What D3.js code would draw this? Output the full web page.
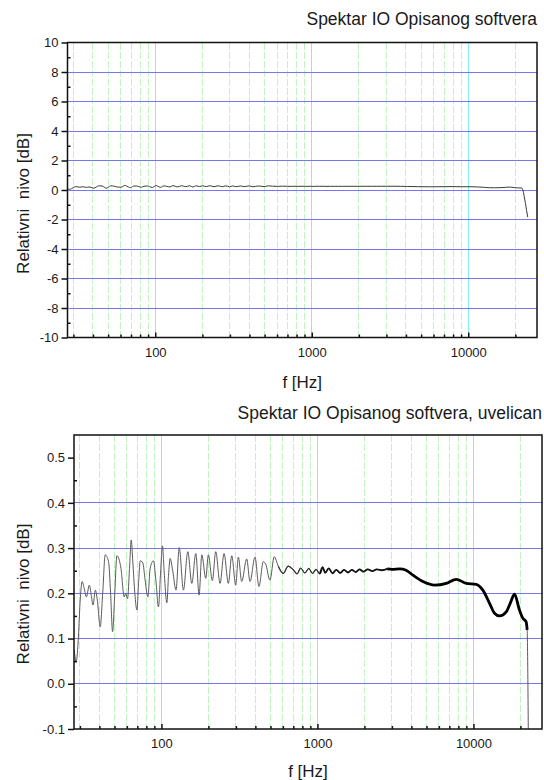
<!DOCTYPE html>
<html lang="en">
<head>
  <meta charset="UTF-8">
  <title>Spektar IO Opisanog softvera</title>
  <script src="https://d3js.org/d3.v7.min.js"></script>
  <style>
    body
    {
      margin: 0;
      padding: 0;
      background-color: #fff;
    }

    svg text
    {
      font-family: Arial, "Liberation Sans", sans-serif;
      fill: #1a1a1a;
    }
  </style>
</head>
<body>
  <svg width="544" height="780"></svg>
  <script>
    // frequency [Hz] and relative level [dB]
    const freq = [
      27.6, 28.4, 29.2, 30.2, 31.0, 32.0, 33.0, 34.5, 35.5, 36.4, 37.7, 38.8, 40.5, 42.0, 43.6, 45.8,
      47.2, 48.6, 50.2, 51.8, 55.0, 57.7, 59.0, 60.6, 62.5, 64.0, 65.5, 67.5, 69.6, 71.5, 73.1, 76.0,
      78.5, 81.8, 84.7, 88.9, 92.0, 95.7, 98.5, 101.5, 104, 108.3, 111, 113.7, 118, 124, 130, 138.3,
      147.5, 156.5, 166, 174.3, 181.4, 192.3, 199.8, 212, 222.8, 237.5, 251.9, 268.4, 282.2, 299.2,
      311, 326.9, 351.9, 369.4, 397.7, 421.8, 449.4, 465.5, 496, 528.4, 560.8, 603.5, 649.3,
      700, 740, 780, 830, 880, 930, 980, 1036, 1080, 1120, 1180, 1250, 1320, 1400, 1480, 1570, 1660,
      1760, 1860, 1970, 2100, 2250, 2400, 2600, 2800, 3000, 3367, 3700, 4097, 4746, 5638, 6699, 7762,
      8994, 10421, 11485, 12680, 13646, 14690, 16220, 17300, 18330, 19720, 20710, 21770, 22090,
      22400, 22700, 23200, 23600, 24000
    ];
    const level = [
      0.075, 0.048, 0.09, 0.19, 0.226, 0.21, 0.192, 0.218, 0.195, 0.174, 0.207, 0.185, 0.126, 0.2, 0.285, 0.27,
      0.2, 0.115, 0.2, 0.283, 0.255, 0.192, 0.2, 0.188, 0.26, 0.318, 0.27, 0.2, 0.163, 0.23, 0.272, 0.267,
      0.23, 0.192, 0.256, 0.272, 0.23, 0.17, 0.24, 0.305, 0.25, 0.179, 0.24, 0.277, 0.25, 0.207, 0.301, 0.207,
      0.292, 0.222, 0.288, 0.196, 0.285, 0.233, 0.285, 0.228, 0.292, 0.222, 0.288, 0.222, 0.283, 0.218,
      0.28, 0.226, 0.276, 0.226, 0.28, 0.215, 0.27, 0.265, 0.229, 0.281, 0.26, 0.244, 0.26,
      0.252, 0.243, 0.256, 0.245, 0.255, 0.244, 0.253, 0.243, 0.258, 0.245, 0.255, 0.244, 0.252, 0.245, 0.252, 0.246, 0.252,
      0.247, 0.253, 0.248, 0.253, 0.249, 0.253, 0.251, 0.254, 0.253, 0.254, 0.251, 0.24, 0.226, 0.218, 0.222, 0.231,
      0.222, 0.22, 0.207, 0.178, 0.156, 0.15, 0.159, 0.18, 0.198, 0.163, 0.145, 0.137, 0.119,
      -0.05, -0.35, -0.9, -1.4, -1.84
    ];

    const xDomain = [27.5, 27500];
    const xMajor = [100, 1000, 10000];
    const xMinor = [30, 40, 50, 60, 70, 80, 90, 200, 300, 400, 500, 600, 700, 800, 900,
      2000, 3000, 4000, 5000, 6000, 7000, 8000, 9000, 20000];

    const topYTicks = [-10, -8, -6, -4, -2, 0, 2, 4, 6, 8, 10];
    const topYMinor = [-9, -7, -5, -3, -1, 1, 3, 5, 7, 9];
    const botYTicks = [-0.1, 0.0, 0.1, 0.2, 0.3, 0.4, 0.5];
    const botYMinor = [-0.05, 0.05, 0.15, 0.25, 0.35, 0.45];

    const points = freq.map((f, i) => ({ f, v: level[i] }));

    const svg = d3.select("svg");

    function drawPanel(cfg) {
      const g = svg.append("g").attr("transform", `translate(${cfg.left},${cfg.top})`);
      const x = d3.scaleLog().domain(xDomain).range([0, cfg.width]);
      const y = d3.scaleLinear().domain(cfg.yDomain).range([cfg.height, 0]);

      // grid
      g.append("g").selectAll("line")
        .data(xMinor)
        .join("line")
        .attr("x1", d => x(d)).attr("x2", d => x(d))
        .attr("y1", 0).attr("y2", cfg.height)
        .attr("stroke", "#c2f2c2")
        .attr("stroke-dasharray", "7,2")
        .attr("shape-rendering", "crispEdges");

      g.append("g").selectAll("line")
        .data(xMajor)
        .join("line")
        .attr("x1", d => x(d)).attr("x2", d => x(d))
        .attr("y1", 0).attr("y2", cfg.height)
        .attr("stroke", "#80eef2")
        .attr("shape-rendering", "crispEdges");

      g.append("g").selectAll("line")
        .data(cfg.yTicks.slice(1, -1))
        .join("line")
        .attr("x1", 0).attr("x2", cfg.width)
        .attr("y1", d => y(d)).attr("y2", d => y(d))
        .attr("stroke", "#7878ee")
        .attr("shape-rendering", "crispEdges");

      // data
      const clipId = "clip-" + cfg.name;
      g.append("clipPath").attr("id", clipId)
        .append("rect").attr("width", cfg.width).attr("height", cfg.height);

      const line = d3.line().x(d => x(d.f)).y(d => y(d.v)).curve(d3.curveMonotoneX);
      const plot = g.append("g").attr("clip-path", `url(#${clipId})`);

      plot.append("path")
        .datum(points)
        .attr("fill", "none")
        .attr("stroke", cfg.lineColor)
        .attr("stroke-width", 1)
        .attr("d", line);

      (cfg.bands || []).forEach(b => {
        plot.append("path")
          .datum(points.filter(p => p.f >= b.from && p.f <= b.to))
          .attr("fill", "none")
          .attr("stroke", b.color)
          .attr("stroke-width", b.width)
          .attr("stroke-linejoin", "round")
          .attr("d", line);
      });

      // frame
      g.append("rect")
        .attr("width", cfg.width).attr("height", cfg.height)
        .attr("fill", "none")
        .attr("stroke", "#111")
        .attr("stroke-width", 1.5);

      // y axis
      const yAxis = g.append("g")
        .call(d3.axisLeft(y).tickValues(cfg.yTicks).tickSize(6).tickPadding(3).tickFormat(cfg.yFormat));
      yAxis.select(".domain").remove();
      yAxis.selectAll("line").attr("stroke", "#111").attr("stroke-width", 1.5);
      yAxis.selectAll("text").style("font-size", "13px");

      const yMinorAxis = g.append("g")
        .call(d3.axisLeft(y).tickValues(cfg.yMinor).tickSize(-3).tickFormat(""));
      yMinorAxis.select(".domain").remove();
      yMinorAxis.selectAll("line").attr("stroke", "#111").attr("stroke-width", 1.5);

      // x axis
      const xAxis = g.append("g")
        .attr("transform", `translate(0,${cfg.height})`)
        .call(d3.axisBottom(x).tickValues(xMajor).tickSize(-5).tickPadding(10).tickFormat(d3.format("d")));
      xAxis.select(".domain").remove();
      xAxis.selectAll("line").attr("stroke", "#111").attr("stroke-width", 1.5);
      xAxis.selectAll("text").style("font-size", "13px");

      const xMinorAxis = g.append("g")
        .attr("transform", `translate(0,${cfg.height})`)
        .call(d3.axisBottom(x).tickValues(xMinor).tickSize(-3).tickFormat(""));
      xMinorAxis.select(".domain").remove();
      xMinorAxis.selectAll("line").attr("stroke", "#111").attr("stroke-width", 1.5);

      // labels
      g.append("text")
        .attr("x", cfg.width)
        .attr("y", cfg.titleY)
        .attr("text-anchor", "end")
        .style("font-size", "17.5px")
        .text(cfg.title);

      g.append("text")
        .attr("x", cfg.width / 2)
        .attr("y", cfg.height + cfg.xLabelY)
        .attr("text-anchor", "middle")
        .style("font-size", "17px")
        .text("f [Hz]");

      g.append("text")
        .attr("transform", `translate(${cfg.yLabelX},${cfg.yLabelMid}) rotate(-90)`)
        .attr("text-anchor", "middle")
        .style("font-size", "17px")
        .style("white-space", "pre")
        .text("Relativni  nivo [dB]");
    }

    drawPanel({
      name: "top",
      left: 67.5, top: 42.5, width: 469.5, height: 295,
      yDomain: [-10, 10],
      yTicks: topYTicks, yMinor: topYMinor,
      yFormat: d => String(d),
      lineColor: "#3a3a3a",
      title: "Spektar IO Opisanog softvera",
      titleY: -18,
      xLabelY: 50,
      yLabelX: -39, yLabelMid: 161
    });

    drawPanel({
      name: "bottom",
      left: 74, top: 435, width: 468, height: 294,
      yDomain: [-0.1, 0.55],
      yTicks: botYTicks, yMinor: botYMinor,
      yFormat: d => d.toFixed(1),
      lineColor: "#5a5a5a",
      bands: [
        { from: 540, to: 1100, width: 1.2, color: "#333" },
        { from: 1036, to: 2800, width: 1.8, color: "#111" },
        { from: 2800, to: 22090, width: 2.8, color: "#000" }
      ],
      title: "Spektar IO Opisanog softvera, uvelican",
      titleY: -16,
      xLabelY: 48,
      yLabelX: -45, yLabelMid: 159
    });
  </script>
</body>
</html>
